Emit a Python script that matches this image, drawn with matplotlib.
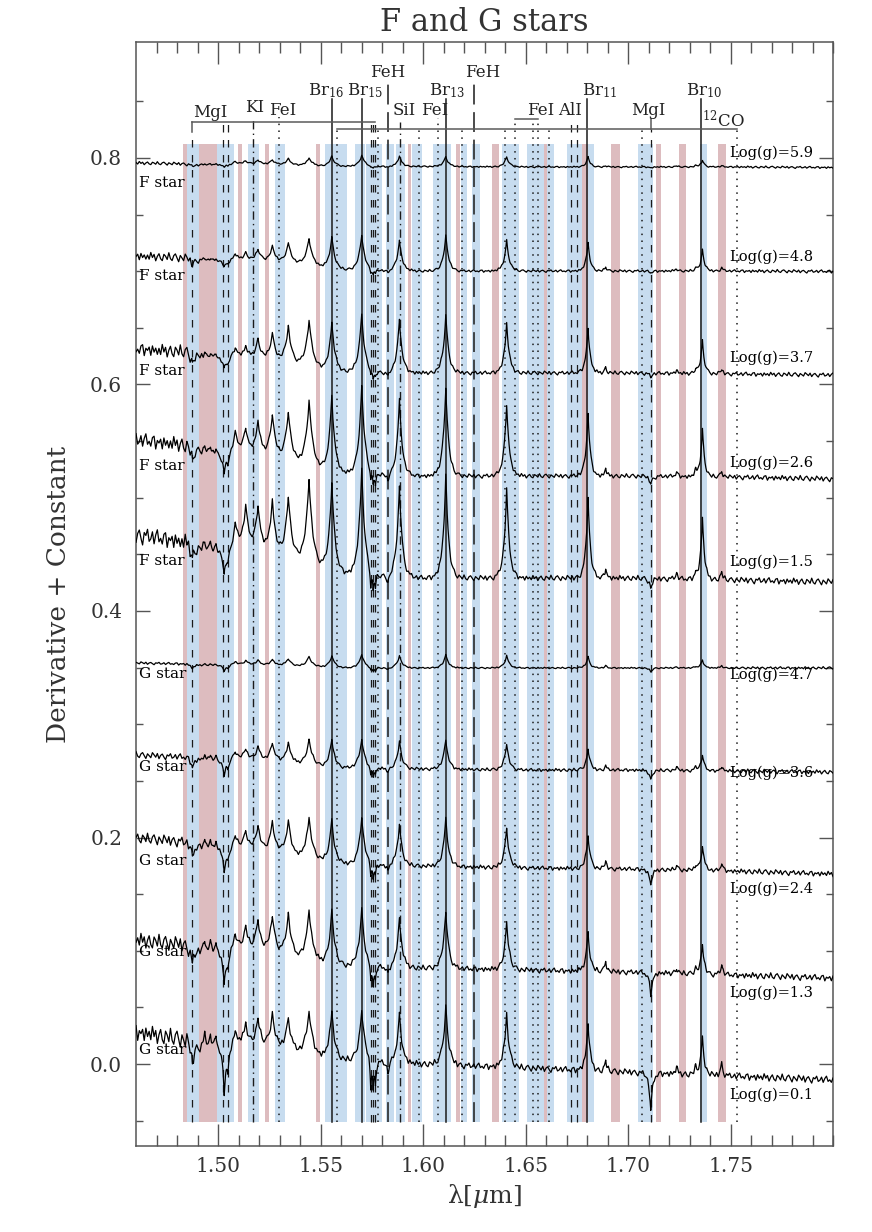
import numpy as np
import matplotlib
matplotlib.use("Agg")
import matplotlib.pyplot as plt

plt.rcParams["font.family"] = ["DejaVu Serif"]
plt.rcParams["mathtext.fontset"] = "dejavuserif"

# ------------------------------------------------------------------
# values (wavelength in micron)
# ------------------------------------------------------------------
star_names = ["F star"] * 5 + ["G star"] * 5
logg_names = ["Log(g)=5.9", "Log(g)=4.8", "Log(g)=3.7", "Log(g)=2.6", "Log(g)=1.5",
              "Log(g)=4.7", "Log(g)=3.6", "Log(g)=2.4", "Log(g)=1.3", "Log(g)=0.1"]
star_label_y = [0.778, 0.696, 0.612, 0.528, 0.444, 0.344, 0.262, 0.179, 0.099, 0.012]
logg_label_y = [0.805, 0.713, 0.624, 0.531, 0.443, 0.344, 0.257, 0.155, 0.063, -0.027]

# trough level of each spectrum at these wavelengths
base_wl = [1.46, 1.485, 1.49, 1.505, 1.545, 1.555, 1.60, 1.65, 1.70, 1.75, 1.80]
base_level = [
    [0.7956, 0.7947, 0.7938, 0.7938, 0.7929, 0.7925, 0.7925, 0.7921, 0.7921, 0.7921, 0.7916],
    [0.7135, 0.7117, 0.7099, 0.7082, 0.7046, 0.7011, 0.7002, 0.7002, 0.7002, 0.7002, 0.6998],
    [0.6313, 0.6287, 0.6252, 0.6216, 0.6146, 0.6110, 0.6102, 0.6102, 0.6102, 0.6093, 0.6084],
    [0.5510, 0.5466, 0.5422, 0.5351, 0.5263, 0.5210, 0.5192, 0.5192, 0.5192, 0.5183, 0.5166],
    [0.4671, 0.4609, 0.4556, 0.4494, 0.4406, 0.4327, 0.4291, 0.4291, 0.4291, 0.4274, 0.4256],
    [0.3541, 0.3532, 0.3523, 0.3515, 0.3506, 0.3497, 0.3497, 0.3497, 0.3497, 0.3497, 0.3497],
    [0.2728, 0.2710, 0.2693, 0.2667, 0.2631, 0.2614, 0.2605, 0.2596, 0.2596, 0.2587, 0.2578],
    [0.1996, 0.1960, 0.1925, 0.1872, 0.1801, 0.1766, 0.1748, 0.1731, 0.1722, 0.1704, 0.1678],
    [0.1095, 0.1051, 0.1007, 0.0962, 0.0901, 0.0865, 0.0848, 0.0830, 0.0812, 0.0786, 0.0759],
    [0.0283, 0.0212, 0.0159, 0.0124, 0.0071, 0.0035, 0.0000, -0.0035, -0.0071, -0.0106, -0.0141],
]

# emission-like peaks of the derivative spectra and their heights above the trough
peak_wl = [1.4935, 1.4963, 1.4990, 1.5084, 1.5135, 1.5195, 1.5265, 1.5343, 1.5444, 1.5555,
           1.5701, 1.5885, 1.6111, 1.6408, 1.6805, 1.6891, 1.7237, 1.7330, 1.7363, 1.7457]
peak_width = [0.0008, 0.0008, 0.0008, 0.0020, 0.0020, 0.0020, 0.0020, 0.0020, 0.0020, 0.0017,
              0.0017, 0.0015, 0.0015, 0.0014, 0.0012, 0.0007, 0.0008, 0.0008, 0.0011, 0.0008]
peak_height = [
    [0.001, 0.001, 0.001, 0.003, 0.0035, 0.0045, 0.005, 0.006, 0.007, 0.009, 0.010, 0.009, 0.009, 0.009, 0.009, 0.001, 0.001, 0.001, 0.006, 0.001],
    [0.002, 0.002, 0.002, 0.007, 0.008, 0.012, 0.015, 0.019, 0.024, 0.029, 0.031, 0.027, 0.031, 0.027, 0.025, 0.004, 0.002, 0.002, 0.019, 0.003],
    [0.004, 0.004, 0.004, 0.011, 0.012, 0.020, 0.026, 0.034, 0.042, 0.044, 0.051, 0.047, 0.051, 0.044, 0.040, 0.005, 0.003, 0.004, 0.029, 0.004],
    [0.005, 0.005, 0.005, 0.022, 0.026, 0.034, 0.042, 0.047, 0.060, 0.069, 0.078, 0.067, 0.079, 0.064, 0.056, 0.007, 0.004, 0.005, 0.042, 0.005],
    [0.007, 0.007, 0.007, 0.026, 0.042, 0.044, 0.050, 0.057, 0.075, 0.081, 0.094, 0.081, 0.090, 0.079, 0.072, 0.009, 0.005, 0.005, 0.055, 0.007],
    [0.001, 0.001, 0.001, 0.0035, 0.0045, 0.005, 0.006, 0.007, 0.009, 0.011, 0.012, 0.011, 0.012, 0.011, 0.010, 0.002, 0.001, 0.001, 0.007, 0.002],
    [0.004, 0.004, 0.004, 0.009, 0.011, 0.014, 0.018, 0.019, 0.023, 0.025, 0.026, 0.024, 0.026, 0.023, 0.019, 0.004, 0.003, 0.003, 0.014, 0.004],
    [0.007, 0.007, 0.007, 0.014, 0.018, 0.024, 0.029, 0.032, 0.037, 0.039, 0.042, 0.037, 0.042, 0.035, 0.030, 0.007, 0.004, 0.004, 0.022, 0.007],
    [0.009, 0.009, 0.009, 0.018, 0.024, 0.032, 0.037, 0.040, 0.046, 0.049, 0.051, 0.044, 0.051, 0.042, 0.035, 0.010, 0.005, 0.005, 0.026, 0.009],
    [0.011, 0.011, 0.011, 0.016, 0.022, 0.028, 0.034, 0.032, 0.040, 0.043, 0.046, 0.043, 0.052, 0.047, 0.042, 0.010, 0.006, 0.006, 0.033, 0.011],
]

# absorption-like dips (MgI, FeH) and their depths below the trough
dip_wl = [1.4875, 1.5030, 1.5048, 1.5745, 1.5757, 1.5768, 1.5829, 1.7111]
dip_width = [0.0011, 0.0009, 0.0009, 0.0005, 0.0005, 0.0005, 0.0009, 0.0010]
dip_depth = [
    [0.0018, 0.0018, 0.0012, 0.0015, 0.0015, 0.0012, 0.0009, 0.0009],
    [0.0053, 0.0044, 0.0030, 0.0040, 0.0040, 0.0030, 0.0026, 0.0018],
    [0.0088, 0.0088, 0.0050, 0.0065, 0.0065, 0.0050, 0.0044, 0.0035],
    [0.0124, 0.0159, 0.0080, 0.0100, 0.0100, 0.0080, 0.0062, 0.0071],
    [0.0132, 0.0194, 0.0100, 0.0150, 0.0150, 0.0100, 0.0071, 0.0088],
    [0.0035, 0.0044, 0.0025, 0.0030, 0.0030, 0.0025, 0.0018, 0.0035],
    [0.0088, 0.0124, 0.0065, 0.0070, 0.0070, 0.0055, 0.0035, 0.0088],
    [0.0124, 0.0177, 0.0090, 0.0115, 0.0115, 0.0090, 0.0053, 0.0141],
    [0.0159, 0.0265, 0.0130, 0.0160, 0.0160, 0.0120, 0.0071, 0.0194],
    [0.0194, 0.0380, 0.0190, 0.0240, 0.0240, 0.0180, 0.0106, 0.0336],
]

# wiggle amplitude (blue edge, middle, red edge) and the wiggle shape seen on the traces
noise_left = [0.0015, 0.004, 0.006, 0.007, 0.008, 0.0012, 0.003, 0.005, 0.007, 0.008]
noise_mid = [0.0007, 0.0012, 0.0018, 0.002, 0.0025, 0.0007, 0.0015, 0.002, 0.0025, 0.003]
noise_right = [0.001, 0.0015, 0.002, 0.0025, 0.003, 0.0012, 0.002, 0.0025, 0.003, 0.0035]
noise_pattern = [0.3, -0.6, 0.9, -0.2, 0.5, -0.9, 0.1, 0.7, -0.4, -0.8, 0.6, 0.2, -0.5, 1.0,
                 -0.3, -0.7, 0.4, 0.8, -0.1, -0.9, 0.5, 0.0, -0.6, 0.9, 0.3, -0.4, 0.7, -0.8,
                 0.2, 0.6, -0.3, -1.0, 0.4, 0.1, 0.8, -0.5, -0.2, 0.6, -0.7, 0.3, 0.9, -0.4,
                 0.0, -0.6, 0.5, 0.7, -0.9, 0.2, -0.1, 0.4, -0.8, 0.6, -0.3]

# shaded windows
pink_bands = [(1.4831, 1.4850), (1.4907, 1.4997), (1.5099, 1.5119), (1.5229, 1.5249),
              (1.5480, 1.5498), (1.5927, 1.5940), (1.6160, 1.6181), (1.6338, 1.6371),
              (1.6590, 1.6606), (1.6774, 1.6806), (1.6919, 1.6960), (1.7138, 1.7160),
              (1.7249, 1.7282), (1.7439, 1.7477)]
blue_bands = [(1.4850, 1.4907), (1.4997, 1.5078), (1.5146, 1.5200), (1.5277, 1.5327),
              (1.5521, 1.5631), (1.5668, 1.5717), (1.5722, 1.5800), (1.5818, 1.5859),
              (1.5867, 1.5911), (1.5946, 1.5995), (1.6049, 1.6135), (1.6185, 1.6215),
              (1.6241, 1.6278), (1.6387, 1.6468), (1.6509, 1.6590), (1.6606, 1.6639),
              (1.6704, 1.6774), (1.6806, 1.6834), (1.7049, 1.7122), (1.7350, 1.7387)]

# marked lines: wavelength and top end
br_wl = [1.5555, 1.5701, 1.6111, 1.6801, 1.7358]
dashed_wl = [1.4875, 1.5026, 1.5050, 1.5745, 1.5756, 1.5766, 1.6723, 1.6753, 1.7111]
dashed_top = [0.8232, 0.832, 0.832, 0.832, 0.832, 0.832, 0.834, 0.834, 0.8256]
feh_wl = [1.5829, 1.6249]
dashdot_wl = [1.5172, 1.5888]
dashdot_top = [0.836, 0.832]
fei_wl = [1.5298, 1.6075, 1.6447, 1.6537, 1.6562]
fei_top = [0.836, 0.835, 0.8344, 0.8344, 0.8344]
co_wl = [1.5582, 1.5782, 1.5980, 1.6188, 1.6398, 1.6615, 1.7066, 1.7534]

# labels: text, x, baseline y, alignment
line_labels = [
    ("MgI", 1.4961, 0.8365, "center"), ("KI", 1.5176, 0.8409, "center"),
    ("FeI", 1.5317, 0.838, "center"), ("Br$_{16}$", 1.5439, 0.8556, "left"),
    ("Br$_{15}$", 1.5629, 0.8556, "left"), ("FeH", 1.5829, 0.8718, "center"),
    ("SiI", 1.5907, 0.838, "center"), ("FeI", 1.6059, 0.838, "center"),
    ("Br$_{13}$", 1.6029, 0.8556, "left"), ("FeH", 1.6293, 0.8718, "center"),
    ("FeI", 1.6576, 0.838, "center"), ("AlI", 1.6717, 0.838, "center"),
    ("Br$_{11}$", 1.6776, 0.8556, "left"), ("MgI", 1.7098, 0.838, "center"),
    ("Br$_{10}$", 1.7283, 0.8556, "left"), ("$^{12}$CO", 1.7361, 0.8276, "left"),
]

y_bottom = -0.0512
band_top = 0.8124

fig = plt.figure(figsize=(8.72, 12.32), dpi=100)
ax = fig.add_axes([0.156, 0.0698, 0.7993, 0.8961])

for a, b in pink_bands:
    ax.fill_between([a, b], y_bottom, band_top, color="#ddbcbf", lw=0, zorder=0)
for a, b in blue_bands:
    ax.fill_between([a, b], y_bottom, band_top, color="#c7dcef", lw=0, zorder=0)

lc = "#1a1a1a"
for x in br_wl:
    ax.plot([x, x], [y_bottom, 0.852], color=lc, lw=1.1, zorder=2)
for x, t in zip(dashed_wl, dashed_top):
    ax.plot([x, x], [y_bottom, t], color=lc, lw=0.9, ls=(0, (6, 6)), zorder=2)
for x in feh_wl:
    ax.plot([x, x], [y_bottom, 0.8706], color=lc, lw=1.1, ls=(0, (13, 5)), zorder=2)
for x, t in zip(dashdot_wl, dashdot_top):
    ax.plot([x, x], [y_bottom, t], color=lc, lw=1.0, ls=(0, (6, 3, 1, 3)), zorder=2)
for x, t in zip(fei_wl, fei_top):
    ax.plot([x, x], [y_bottom, t], color=lc, lw=1.1, ls=(0, (1, 3.5)), zorder=2)
for x in co_wl:
    ax.plot([x, x], [y_bottom, 0.8256], color=lc, lw=1.1, ls=(0, (1, 3.5)), zorder=2)

# brackets grouping lines
gc = "#5a5a5a"
ax.plot([1.4875, 1.5766], [0.8321, 0.8321], color=gc, lw=1.1)
ax.plot([1.4875, 1.4875], [0.8321, 0.8232], color=gc, lw=1.1)
ax.plot([1.5582, 1.7534], [0.8256, 0.8256], color=gc, lw=1.1)
ax.plot([1.6447, 1.6562], [0.8344, 0.8344], color=gc, lw=1.1)
ax.plot([1.7111, 1.7111], [0.834, 0.8256], color=gc, lw=1.1)

for txt, x, y, ha in line_labels:
    ax.text(x, y, txt, ha=ha, va="baseline", fontsize=12, color="#222222")

# spectra
wl_grid = np.arange(1.4600, 1.8000, 0.0008)
wl = np.union1d(np.arange(1.4600, 1.8000, 0.0002), np.array(peak_wl + dip_wl))
noise_wl = [1.46, 1.485, 1.495, 1.75, 1.76, 1.80]
for i in range(len(star_names)):
    tex = np.interp(wl, wl_grid, np.roll(np.resize(noise_pattern, wl_grid.size), 7 * i))
    y = np.interp(wl, base_wl, base_level[i])
    for x0, h, w in zip(peak_wl, peak_height[i], peak_width):
        y = y + h * np.exp(-np.abs(wl - x0) / w)
    for x0, d, w in zip(dip_wl, dip_depth[i], dip_width):
        y = y - d * np.exp(-np.abs(wl - x0) / w)
    amp = np.interp(wl, noise_wl, [noise_left[i], noise_left[i], noise_mid[i],
                                   noise_mid[i], noise_right[i], noise_right[i]])
    ax.plot(wl, y + amp * tex, color="black", lw=0.9, zorder=3)
    ax.text(1.4615, star_label_y[i], star_names[i], fontsize=11, va="center", ha="left", zorder=4)
    ax.text(1.7493, logg_label_y[i], logg_names[i], fontsize=10.5, va="center", ha="left", zorder=4)

ax.set_xlim(1.46, 1.80)
ax.set_ylim(-0.0724, 0.9024)
ax.set_xticks([1.50, 1.55, 1.60, 1.65, 1.70, 1.75])
ax.set_xticks(np.arange(1.47, 1.80, 0.01), minor=True)
ax.set_yticks([0.0, 0.2, 0.4, 0.6, 0.8])
ax.set_yticks(np.arange(-0.05, 0.90, 0.05), minor=True)
ax.set_xticklabels(["1.50", "1.55", "1.60", "1.65", "1.70", "1.75"])
ax.set_yticklabels(["0.0", "0.2", "0.4", "0.6", "0.8"])
ax.tick_params(which="both", direction="in", top=True, right=True, colors="#555555",
               labelcolor="#333333", labelsize=14.5)
ax.tick_params(axis="x", which="major", length=16, width=1)
ax.tick_params(axis="x", which="minor", length=8, width=1)
ax.tick_params(axis="y", which="major", length=10, width=1, pad=10)
ax.tick_params(axis="y", which="minor", length=5, width=1)
ax.tick_params(axis="x", pad=8)
for s in ax.spines.values():
    s.set_color("#555555")
    s.set_linewidth(1.1)

ax.set_xlabel("λ[$\\mu$m]", fontsize=18, color="#333333", labelpad=4)
ax.set_ylabel("Derivative + Constant", fontsize=19, color="#333333", labelpad=14)
ax.set_title("F and G stars", fontsize=22, color="#333333", pad=8)

fig.savefig("out.png", dpi=100)
